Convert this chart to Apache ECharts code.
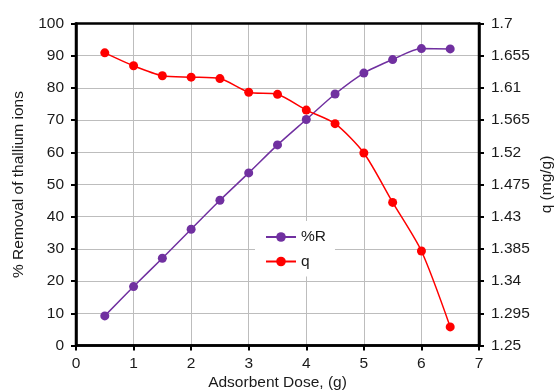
<!DOCTYPE html>
<html>
<head>
<meta charset="utf-8">
<script src="https://cdn.jsdelivr.net/npm/echarts@6/dist/echarts.min.js"></script>
<style>
  html, body { margin: 0; padding: 0; background: #fff; }
  #chart { width: 554px; height: 390px; }
</style>
</head>
<body>
<div id="chart"></div>
<script>
// adsorbent dose (g)
const dose = [0.5, 1, 1.5, 2, 2.5, 3, 3.5, 4, 4.5, 5, 5.5, 6, 6.5];
// % removal of thallium ions
const removal = [9.2, 18.3, 27.1, 36.1, 45.1, 53.6, 62.3, 70.2, 78.1, 84.6, 88.8, 92.2, 92.1];
// uptake q (mg/g)
const uptake = [1.659, 1.641, 1.627, 1.625, 1.623, 1.604, 1.601, 1.579, 1.560, 1.519, 1.450, 1.382, 1.276];

const txt = "#1a1a1a";
const font = "Liberation Sans";
const fs = 15.5;

const chart = echarts.init(document.getElementById("chart"));

const axisLine = { show: true, onZero: false, lineStyle: { color: "#000", width: 2.5 } };
const axisTick = { show: true, inside: false, length: 5, lineStyle: { color: "#000", width: 2 } };
const gridLine = { show: true, lineStyle: { color: "#bdbdbd", width: 1 } };

const option = {
  animation: false,
  textStyle: { fontFamily: font },
  grid: {
    left: 76, right: 75, top: 23.5, bottom: 44.5,
    outerBoundsMode: "none",
    containLabel: false,
    show: true, borderColor: "#000", borderWidth: 2.5, z: 5
  },
  legend: {
    orient: "vertical",
    left: 255,
    top: 221,
    padding: [8, 9, 7, 10],
    itemWidth: 30,
    itemHeight: 12,
    itemGap: 8.5,
    backgroundColor: "#fff",
    textStyle: { fontFamily: font, fontSize: fs, color: txt },
    data: ["%R", "q"]
  },
  xAxis: {
    type: "value",
    min: 0, max: 7, interval: 1,
    name: "Adsorbent Dose, (g)",
    nameLocation: "middle",
    nameGap: 29.5,
    nameMoveOverlap: false,
    nameTextStyle: { fontFamily: font, fontSize: fs, color: txt },
    axisLine: axisLine,
    axisTick: axisTick,
    axisLabel: { fontFamily: font, fontSize: fs, color: txt, margin: 10 },
    splitLine: gridLine
  },
  yAxis: [
    {
      type: "value",
      min: 0, max: 100, interval: 10,
      name: "% Removal of thallium ions",
      nameLocation: "middle",
      nameGap: 49,
      nameMoveOverlap: false,
      nameTextStyle: { fontFamily: font, fontSize: fs, color: txt },
      axisLine: axisLine,
      axisTick: axisTick,
      axisLabel: { fontFamily: font, fontSize: fs, color: txt, margin: 12 },
      splitLine: gridLine
    },
    {
      type: "value",
      min: 1.25, max: 1.7,
      alignTicks: true,
      position: "right",
      name: "q (mg/g)",
      nameLocation: "middle",
      nameGap: 60,
      nameMoveOverlap: false,
      nameTextStyle: { fontFamily: font, fontSize: fs, color: txt },
      axisLine: axisLine,
      axisTick: axisTick,
      axisLabel: {
        fontFamily: font, fontSize: fs, color: txt, margin: 12,
        formatter: (v) => String(parseFloat(v.toFixed(3)))
      },
      splitLine: { show: false }
    }
  ],
  series: [
    {
      name: "%R",
      type: "line",
      yAxisIndex: 0,
      smooth: 0.25,
      symbol: "circle",
      symbolSize: 9,
      color: "#7030a0",
      lineStyle: { width: 1.5 },
      data: dose.map((d, i) => [d, removal[i]])
    },
    {
      name: "q",
      type: "line",
      yAxisIndex: 1,
      smooth: 0.25,
      symbol: "circle",
      symbolSize: 9,
      color: "#ff0000",
      lineStyle: { width: 1.5 },
      data: dose.map((d, i) => [d, uptake[i]])
    }
  ]
};

chart.setOption(option);
</script>
</body>
</html>
